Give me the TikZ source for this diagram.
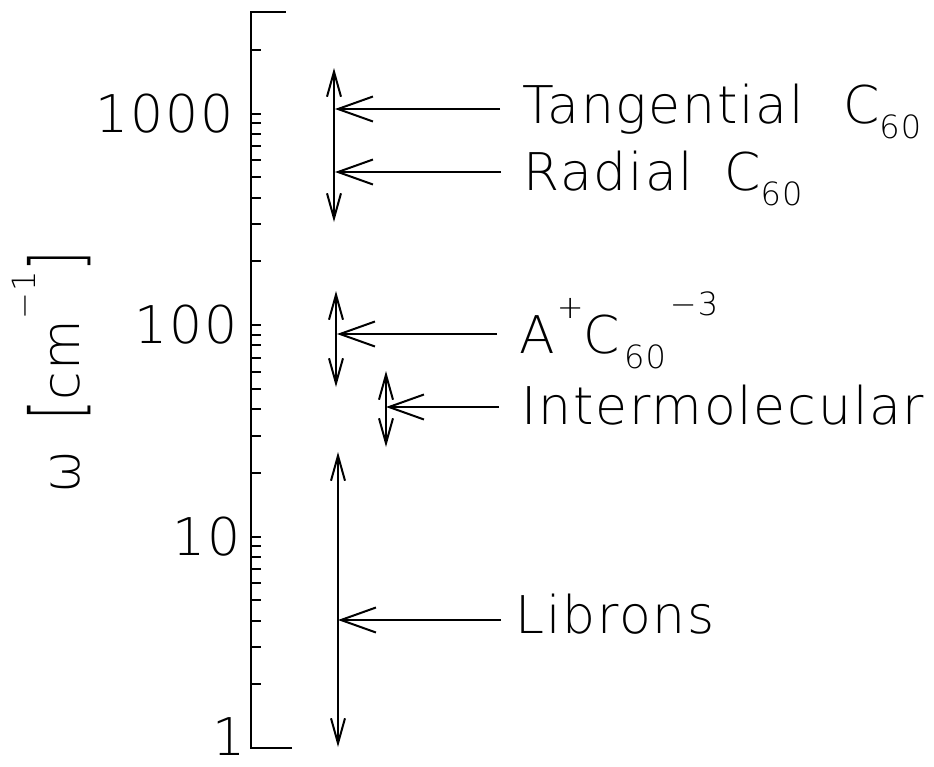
\documentclass[tikz,border=0pt]{standalone}
\usepackage{fontspec}
\usepackage{graphicx}
\usetikzlibrary{arrows.meta}
\IfFontExistsTF{DejaVuSans-ExtraLight.ttf}
  {\setmainfont{DejaVuSans-ExtraLight.ttf}[LetterSpace=3.5]}
  {\IfFontExistsTF{DejaVu Sans ExtraLight}
    {\setmainfont{DejaVu Sans ExtraLight}[LetterSpace=3.5]}
    {\setmainfont{DejaVu Sans}[LetterSpace=3.5]}}
\newcommand{\subsc}[1]{\raisebox{-7.5pt}{\fontsize{16}{16}\selectfont #1}}
\newcommand{\supsc}[2][19pt]{\raisebox{#1}{\fontsize{16}{16}\selectfont #2}}
\newcommand{\tallbr}[1]{\raisebox{-1.5pt}{\scalebox{1}[1.37]{#1}}}
\tikzset{
  axisline/.style={line width=1pt},
  rangearrow/.style={line width=1pt,
    {Straight Barb[length=12.5pt,width=7pt]}-{Straight Barb[length=12.5pt,width=7pt]}},
  modearrow/.style={line width=1pt, -{Straight Barb[length=17.5pt,width=12.5pt]}},
  modelabel/.style={font=\fontsize{26}{30}\selectfont, inner xsep=11pt, inner ysep=0pt,
    anchor=base west},
  ticklabel/.style={font=\fontsize{26}{30}\selectfont, inner sep=0pt, anchor=east},
}
\begin{document}
\begin{tikzpicture}[x=0.5pt,y=-0.5pt]
  \useasboundingbox (0,0) rectangle (934,767);
  % log axis, one decade = 211.5
  \draw[axisline] (292,748) -- (251,748) -- (251,12) -- (286,12);
  \foreach \d in {0,1,2}
    \foreach \m in {2,...,9}
      \draw[axisline] (251,{748-211.5*(\d+ln(\m)/ln(10))}) -- ++(10,0);
  \foreach \d in {1,2,3}
    \draw[axisline] (251,{748-211.5*\d}) -- ++(10,0);
  \draw[axisline] (251,{748-211.5*(3+ln(2)/ln(10))}) -- ++(10,0);
  \foreach \v/\yy/\xx in {1/737/246,10/536.5/241,100/325/238,1000/113.5/234}
    \node[ticklabel] (tl\v) at (\xx,\yy) {\v};
  \node[rotate=90, anchor=base, font=\fontsize{26}{30}\selectfont, inner sep=0pt]
    (ytitle) at (79,372) {ω\hspace{0.55em}\tallbr{[}cm\supsc[22pt]{−1}\tallbr{]}};
  % ranges
  \coordinate (fulltop) at (334,68);  \coordinate (fullbot) at (334,222);
  \coordinate (ionstop) at (336,291); \coordinate (ionsbot) at (336,387);
  \coordinate (intertop) at (386,371); \coordinate (interbot) at (386,447);
  \coordinate (libtop) at (338,452);  \coordinate (libbot) at (338,747);
  \draw[rangearrow] (fullbot) -- (fulltop);
  \draw[rangearrow] (ionsbot) -- (ionstop);
  \draw[rangearrow] (interbot) -- (intertop);
  \draw[rangearrow] (libbot) -- (libtop);
  % mode labels
  \coordinate (tantip) at (335,109);
  \coordinate (radtip) at (335,172);
  \coordinate (iontip) at (337,334);
  \coordinate (intertip) at (386,407);
  \coordinate (libtip) at (338,620);
  \node[modelabel] (tan) at (500,123) {Tangential\hspace{0.75em}C\subsc{60}};
  \node[modelabel] (rad) at (501,190) {Radial\hspace{0.6em}C\subsc{60}};
  \node[modelabel] (ion) at (497,353) {A\hspace{1pt}\supsc[17.5pt]{+}C\hspace{2pt}\subsc{60}\hspace{2pt}\supsc{−3}};
  \node[modelabel] (inter) at (499,424) {Intermolecular};
  \node[modelabel, inner xsep=7pt] (lib) at (501,633) {Librons};
  \draw[modearrow] (tan.west |- tantip) -- (tantip);
  \draw[modearrow] (rad.west |- radtip) -- (radtip);
  \draw[modearrow] (ion.west |- iontip) -- (iontip);
  \draw[modearrow] (inter.west |- intertip) -- (intertip);
  \draw[modearrow] (lib.west |- libtip) -- (libtip);
\end{tikzpicture}
\end{document}
